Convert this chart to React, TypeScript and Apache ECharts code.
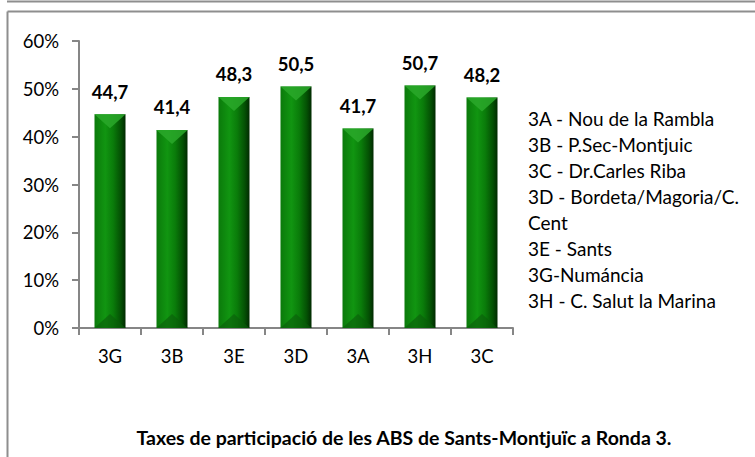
import React, { useEffect, useRef } from "react";
import * as echarts from "echarts";

const categories = ["3G", "3B", "3E", "3D", "3A", "3H", "3C"];
const values = [44.7, 41.4, 48.3, 50.5, 41.7, 50.7, 48.2];
const yTicks = [0, 10, 20, 30, 40, 50, 60];
const legendLines = [
  "3A - Nou de la Rambla",
  "3B - P.Sec-Montjuic",
  "3C - Dr.Carles Riba",
  "3D - Bordeta/Magoria/C.",
  "Cent",
  "3E - Sants",
  "3G-Numáncia",
  "3H - C. Salut la Marina",
];
const titleText = "Taxes de participació de les ABS de Sants-Montjuïc a Ronda 3.";

const FONT = "Lato, 'Open Sans', sans-serif";

export default function App() {
  const ref = useRef<HTMLDivElement>(null);
  useEffect(() => {
    if (!ref.current) return;
    const chart = echarts.init(ref.current, undefined, { renderer: "svg" });
    const barGrad = new echarts.graphic.LinearGradient(0, 0, 1, 0, [
      { offset: 0, color: "#0b7a0b" },
      { offset: 0.35, color: "#119511" },
      { offset: 0.6, color: "#0a7c0a" },
      { offset: 0.85, color: "#045004" },
      { offset: 1, color: "#012a01" },
    ]);
    chart.setOption({
      animation: false,
      backgroundColor: "#ffffff",
      textStyle: { fontFamily: FONT },
      title: {
        text: titleText,
        left: 399,
        textAlign: "center",
        top: 422,
        textStyle: { fontFamily: FONT, fontSize: 19.5, fontWeight: "bold", color: "#000" },
      },
      grid: { left: 79, right: 242, top: 41, bottom: 129, containLabel: false },
      xAxis: {
        type: "category",
        data: categories,
        axisLine: { lineStyle: { color: "#868686", width: 2 } },
        axisTick: { show: true, length: 7, lineStyle: { color: "#868686", width: 2 } },
        axisLabel: { color: "#000", fontSize: 18.5, fontFamily: FONT, margin: 18 },
      },
      yAxis: {
        type: "value",
        min: yTicks[0],
        max: yTicks[yTicks.length - 1],
        interval: 10,
        axisLine: { show: true, lineStyle: { color: "#868686", width: 2 } },
        axisTick: { show: true, length: 7, lineStyle: { color: "#868686", width: 2 } },
        splitLine: { show: false },
        axisLabel: {
          color: "#000",
          fontSize: 18.5,
          fontFamily: FONT,
          margin: 20,
          formatter: (v: number) => `${v}%`,
        },
      },
      series: [
        {
          type: "bar",
          data: values,
          barWidth: 31,
          itemStyle: { color: barGrad },
          label: {
            show: true,
            position: "top",
            distance: 13,
            color: "#000",
            fontSize: 18.5,
            fontWeight: "bold",
            fontFamily: FONT,
            formatter: (p: any) => String(p.value).replace(".", ","),
          },
        },
        {
          type: "pictorialBar",
          data: values,
          barGap: "-100%",
          symbol: "path://M0,0 L10,0 L5,5 Z",
          symbolSize: [31, 14],
          symbolPosition: "end",
          symbolRepeat: false,
          z: 3,
          itemStyle: { color: "#2aa82a", opacity: 0.85 },
          silent: true,
        },
        {
          type: "pictorialBar",
          data: values,
          barGap: "-100%",
          symbol: "path://M0,5 L10,5 L5,0 Z",
          symbolSize: [31, 14],
          symbolPosition: "start",
          symbolRepeat: false,
          z: 3,
          itemStyle: { color: "#0a5c0a", opacity: 0.6 },
          silent: true,
        },
      ],
      graphic: [
        {
          type: "line",
          shape: { x1: 7, y1: 1.5, x2: 755, y2: 1.5 },
          style: { stroke: "#8e8e8e", lineWidth: 2 },
        },
        {
          type: "line",
          shape: { x1: 7.5, y1: 11.5, x2: 755, y2: 11.5 },
          style: { stroke: "#8e8e8e", lineWidth: 2 },
        },
        {
          type: "line",
          shape: { x1: 7.5, y1: 11.5, x2: 7.5, y2: 457 },
          style: { stroke: "#8e8e8e", lineWidth: 2 },
        },
        {
          type: "text",
          left: 528,
          top: 105,
          style: {
            text: legendLines.join("\n"),
            fontFamily: FONT,
            fontSize: 19,
            lineHeight: 26,
            fill: "#000",
          },
        },
      ],
    });
    return () => chart.dispose();
  }, []);
  return (
    <div
      ref={ref}
      style={{ position: "fixed", left: 0, top: 0, width: 755, height: 457 }}
    />
  );
}
